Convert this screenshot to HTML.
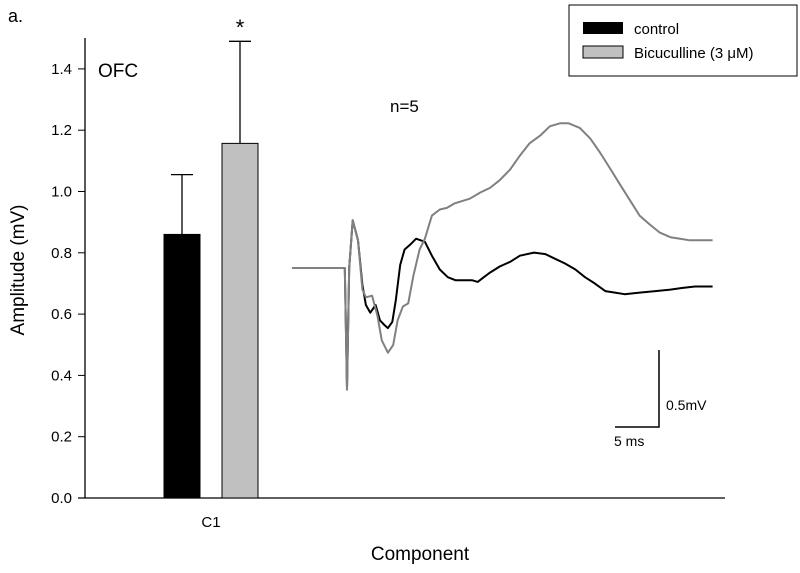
<!DOCTYPE html>
<html><head><meta charset="utf-8"><style>
body{margin:0;background:#fff}
svg{display:block;font-family:"Liberation Sans",Arial,sans-serif}
</style></head><body>
<svg id="chart" width="800" height="573" viewBox="0 0 800 573" xmlns="http://www.w3.org/2000/svg">
<text x="8" y="22" font-size="18">a.</text>
<g id="axes"></g>
<g id="bars"></g>
<g id="traces"></g>
<text transform="translate(24,270) rotate(-90)" text-anchor="middle" font-size="19">Amplitude (mV)</text>
<text x="420" y="560" text-anchor="middle" font-size="19">Component</text>
<text x="98" y="77" font-size="19">OFC</text>
<text x="390" y="112" font-size="17">n=5</text>
<g>
<path d="M615,427 H659 V350" fill="none" stroke="#000" stroke-width="1.5"/>
<text x="666" y="410" font-size="14">0.5mV</text>
<text x="614" y="446" font-size="14">5 ms</text>
</g>
<g>
<rect x="569" y="5" width="228" height="71" fill="#fff" stroke="#000" stroke-width="1"/>
<rect x="583" y="22" width="40" height="12" fill="#000"/>
<text x="634" y="34" font-size="15">control</text>
<rect x="583" y="46" width="40" height="12" fill="#c0c0c0" stroke="#000" stroke-width="1"/>
<text x="634" y="58" font-size="15">Bicuculline (3 μM)</text>
</g>
</svg>
<script>
const yTicks=[0.0,0.2,0.4,0.6,0.8,1.0,1.2,1.4];
const yTickLabels=["0.0","0.2","0.4","0.6","0.8","1.0","1.2","1.4"];
const categories=["C1"];
const seriesNames=["control","bicuculline"];
const barValues=[0.86,1.157];
const barErrors=[0.195,0.333];
const controlT=[0,6.0,6.25,6.5,6.9,7.5,8.0,8.4,8.9,9.5,10.0,10.5,10.9,11.4,11.8,12.3,12.8,13.4,14.1,15.1,15.9,16.8,17.7,18.6,19.5,20.5,21.1,21.8,22.5,23.6,24.8,25.9,27.5,28.8,29.9,31.0,32.2,33.3,34.4,35.6,36.7,37.8,39.5,41.3,43.0,44.3,45.8,47.8];
const controlV=[0,0,-0.78,0,0.31,0.18,-0.11,-0.24,-0.29,-0.24,-0.34,-0.37,-0.39,-0.35,-0.21,0.02,0.12,0.15,0.19,0.17,0.08,-0.01,-0.06,-0.08,-0.08,-0.08,-0.09,-0.06,-0.03,0.01,0.04,0.08,0.1,0.09,0.06,0.03,-0.01,-0.06,-0.10,-0.15,-0.16,-0.17,-0.16,-0.15,-0.14,-0.13,-0.12,-0.12];
const bicT=[0,6.0,6.25,6.5,6.9,7.5,8.0,8.4,9.1,9.7,10.2,10.9,11.5,12.0,12.6,13.2,13.8,14.5,15.1,15.9,16.8,17.6,18.5,20.2,21.4,22.5,23.6,24.8,25.9,27.0,28.2,29.3,30.5,31.4,32.7,33.9,35.0,36.1,37.3,38.4,39.5,40.7,41.8,43.0,44.1,45.2,46.4,47.8];
const bicV=[0,0,-0.79,0,0.31,0.18,-0.14,-0.19,-0.18,-0.31,-0.47,-0.55,-0.5,-0.34,-0.25,-0.23,-0.05,0.12,0.19,0.34,0.38,0.39,0.42,0.45,0.49,0.52,0.57,0.64,0.73,0.81,0.86,0.92,0.94,0.94,0.91,0.84,0.75,0.65,0.54,0.44,0.34,0.28,0.23,0.2,0.19,0.18,0.18,0.18];

const NS="http://www.w3.org/2000/svg";
function mk(tag,attrs,parent){const e=document.createElementNS(NS,tag);for(const k in attrs)e.setAttribute(k,attrs[k]);parent.appendChild(e);return e;}
const y0=498, pxPerUnit=306.5;
function yScale(v){return y0-v*pxPerUnit;}
function tx(t){return 292+t*8.8;}
function ty(v){return 268-v*154;}

const axes=document.getElementById('axes');
const ya=mk('line',{x1:85,y1:38,x2:85,y2:498,stroke:'#000','stroke-width':1.3},axes);


const xa=mk('line',{x1:78,y1:498,x2:725,y2:498,stroke:'#000','stroke-width':1.3},axes);


yTicks.forEach((v,i)=>{
  const y=yScale(v);
  const tk=mk('line',{x1:78,y1:y,x2:85,y2:y,stroke:'#000','stroke-width':1},axes);
  
  
  const tl=mk('text',{x:72,y:y+5,'text-anchor':'end','font-size':15},axes);
  
  
  tl.textContent=yTickLabels[i];
});
const cl=mk('text',{x:211,y:527,'text-anchor':'middle','font-size':15},axes);


cl.textContent=categories[0];

const bars=document.getElementById('bars');
const barX=[164,222], barW=36, fills=['#000','#c0c0c0'];
barValues.forEach((v,i)=>{
  const cx=barX[i]+barW/2;
  const eb=mk('path',{d:`M${cx},${yScale(v)} V${yScale(v+barErrors[i])} M${cx-11},${yScale(v+barErrors[i])} H${cx+11}`,stroke:'#000','stroke-width':1.3,fill:'none'},bars);
  
  
  const r=mk('rect',{x:barX[i],y:yScale(v),width:barW,height:y0-yScale(v),fill:fills[i],stroke:'#000','stroke-width':1},bars);
  
  
});
const st=mk('text',{x:240,y:35,'text-anchor':'middle','font-size':22},bars);


st.textContent='*';

const traces=document.getElementById('traces');
function drawTrace(T,V,color,name){
  const d=T.map((t,i)=>(i?'L':'M')+tx(t).toFixed(1)+','+ty(V[i]).toFixed(1)).join(' ');
  const p=mk('path',{d:d,fill:'none',stroke:color,'stroke-width':2,'stroke-linejoin':'round'},traces);
  
  
}
drawTrace(controlT,controlV,'#000','trace-control');
drawTrace(bicT,bicV,'#808080','trace-bicuculline');
</script>
</body></html>
